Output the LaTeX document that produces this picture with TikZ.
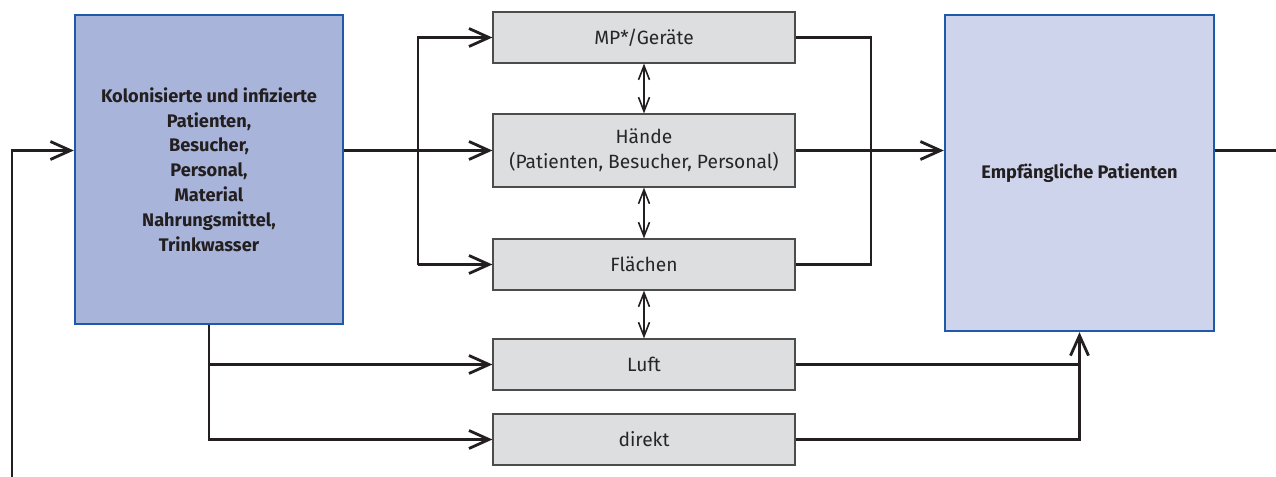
\documentclass[tikz,border=0pt]{standalone}
\usepackage{fontspec}
\setmainfont{Fira Sans}
\usetikzlibrary{arrows.meta}

\definecolor{quellblau}{HTML}{A8B4D9}
\definecolor{zielblau}{HTML}{CED4EB}
\definecolor{randblau}{HTML}{1E5AA8}
\definecolor{wegegrau}{HTML}{DDDEE0}
\definecolor{strich}{HTML}{231F20}

\begin{document}
\begin{tikzpicture}[x=0.5pt, y=-0.5pt,
        font=\fontsize{9.6}{12.4}\selectfont,
        quelle/.style={draw=randblau, line width=1.2pt, fill=quellblau, align=center,
            text=strich, font=\fontsize{9.1}{12.4}\selectfont\bfseries},
        weg/.style={draw=black!70, line width=0.6pt, fill=wegegrau, align=center,
            text=black!85, minimum width=151pt},
        pfeil/.style={draw=strich, line width=1.4pt, -{Straight Barb[length=10pt, width=9pt, line width=1.4pt]}},
        verbindung/.style={draw=strich, line width=1.4pt},
        doppel/.style={draw=strich, line width=0.8pt, {Straight Barb[length=7pt, width=5.5pt, line width=0.8pt]}-{Straight Barb[length=7pt, width=5.5pt, line width=0.8pt]}}]
    \useasboundingbox (0,0) rectangle (1276,477);

    % Quelle und Ziel
    \node[quelle, minimum width=134pt, minimum height=154.5pt] (kolo) at (209,169.5)
        {Kolonisierte und infizierte\\Patienten,\\Besucher,\\Personal,\\Material\\Nahrungsmittel,\\Trinkwasser};
    \node[quelle, fill=zielblau, minimum width=134.5pt, minimum height=158pt] (empf) at (1079.5,173)
        {Empfängliche Patienten};

    % Übertragungswege
    \node[weg, minimum height=25.5pt] (mp) at (644,37.5) {MP*/Geräte};
    \node[weg, minimum height=36.5pt] (haende) at (644,150.5) {Hände\\(Patienten, Besucher, Personal)};
    \node[weg, minimum height=25.5pt] (flaechen) at (644,264.5) {Flächen};
    \node[weg, minimum height=25.5pt] (luft) at (644,364.5) {Luft};
    \node[weg, minimum height=25.5pt] (direkt) at (644,439.5) {direkt};

    \coordinate (vl) at (418,150.5);
    \coordinate (vr) at (871,150.5);
    \coordinate (rueckL) at (12,477);
    \coordinate (rueckR) at (1276,150.5);

    % Kreislauf
    \draw[pfeil] (rueckL) |- (kolo.west |- haende.west);
    \draw[verbindung] (empf.east |- rueckR) -- (rueckR);

    % obere Wege
    \draw[pfeil] (kolo.east |- haende.west) -- (haende.west);
    \draw[pfeil] (vl |- flaechen.west) -- (vl |- mp.west) -- (mp.west);
    \draw[pfeil] (vl |- flaechen.west) -- (flaechen.west);
    \draw[verbindung] (mp.east) -| (vr) |- (flaechen.east);
    \draw[pfeil] (haende.east) -- (empf.west |- haende.east);

    \draw[doppel] (mp.south) -- (haende.north);
    \draw[doppel] (haende.south) -- (flaechen.north);
    \draw[doppel] (flaechen.south) -- (luft.north);

    % untere Wege
    \draw[pfeil] (kolo.south) |- (direkt.west);
    \draw[pfeil] (kolo.south |- luft.west) -- (luft.west);
    \draw[pfeil] (direkt.east) -| (empf.south);
    \draw[verbindung] (luft.east) -- (empf.south |- luft.east);
\end{tikzpicture}
\end{document}
